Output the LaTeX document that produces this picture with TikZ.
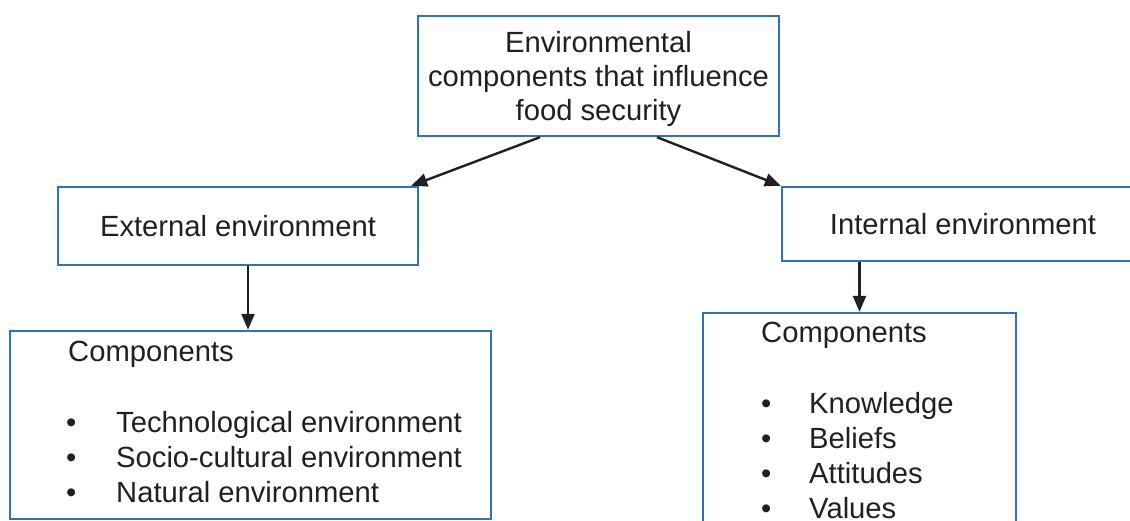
\documentclass[tikz,border=0pt]{standalone}
\usepackage{fontspec}
\setmainfont{Liberation Sans}
\usetikzlibrary{arrows.meta}
\definecolor{boxblue}{HTML}{2E74B5}
\definecolor{ink}{HTML}{231F20}
\begin{document}
\begin{tikzpicture}[x=1pt,y=-1pt,
  font=\fontsize{29.2}{34.2}\selectfont, text=ink,
  box/.style={draw=boxblue, line width=2.4pt, rectangle, inner sep=0pt, anchor=center},
  lbl/.style={inner sep=0pt, anchor=base west},
  arr/.style={draw=ink, line width=2.4pt, -{Triangle[length=16pt,width=13pt]}}]
\useasboundingbox (0,0) rectangle (1130,521);
\clip (0,0) rectangle (1130,521);

% boxes
\node[box, minimum width=361pt, minimum height=120pt] (top) at (598.5,76) {};
\node[inner sep=0pt, align=center] (toptxt) at (598.5,79)
  {Environmental\\components that influence\\food security};
\node[box, minimum width=360pt, minimum height=78pt] (ext) at (238,226) {External environment};
\node[box, minimum width=362pt, minimum height=74pt] (int) at (963,224) {Internal environment};
\node[box, minimum width=481pt, minimum height=188pt] (lcomp) at (250.5,425) {};
\node[box, minimum width=313pt, minimum height=227pt] (rcomp) at (859.5,426.5) {};

% left component list
\node[lbl] (lhead) at (68,362) {Components};
\node[lbl] (lb1) at (66,432) {•};
\node[lbl] (lb2) at (66,467) {•};
\node[lbl] (lb3) at (66,502) {•};
\node[lbl] (lt1) at (116,432) {Technological environment};
\node[lbl] (lt2) at (116,467) {Socio-cultural environment};
\node[lbl] (lt3) at (116,502) {Natural environment};

% right component list
\node[lbl] (rhead) at (761,343) {Components};
\node[lbl] (rb1) at (761,413) {•};
\node[lbl] (rb2) at (761,448) {•};
\node[lbl] (rb3) at (761,483) {•};
\node[lbl] (rb4) at (761,518) {•};
\node[lbl] (rt1) at (809,413) {Knowledge};
\node[lbl] (rt2) at (809,448) {Beliefs};
\node[lbl] (rt3) at (809,483) {Attitudes};
\node[lbl] (rt4) at (809,518) {Values};

% connectors
\draw[arr] ([xshift=-58.5pt]top.south) -- ([xshift=-8pt]ext.north east);
\draw[arr] ([xshift=58.5pt]top.south) -- (int.north west);
\draw[arr] ([xshift=10pt]ext.south) -- ([xshift=10pt]ext.south |- lcomp.north);
\draw[arr] (rcomp.north |- int.south) -- (rcomp.north);
\end{tikzpicture}
\end{document}
